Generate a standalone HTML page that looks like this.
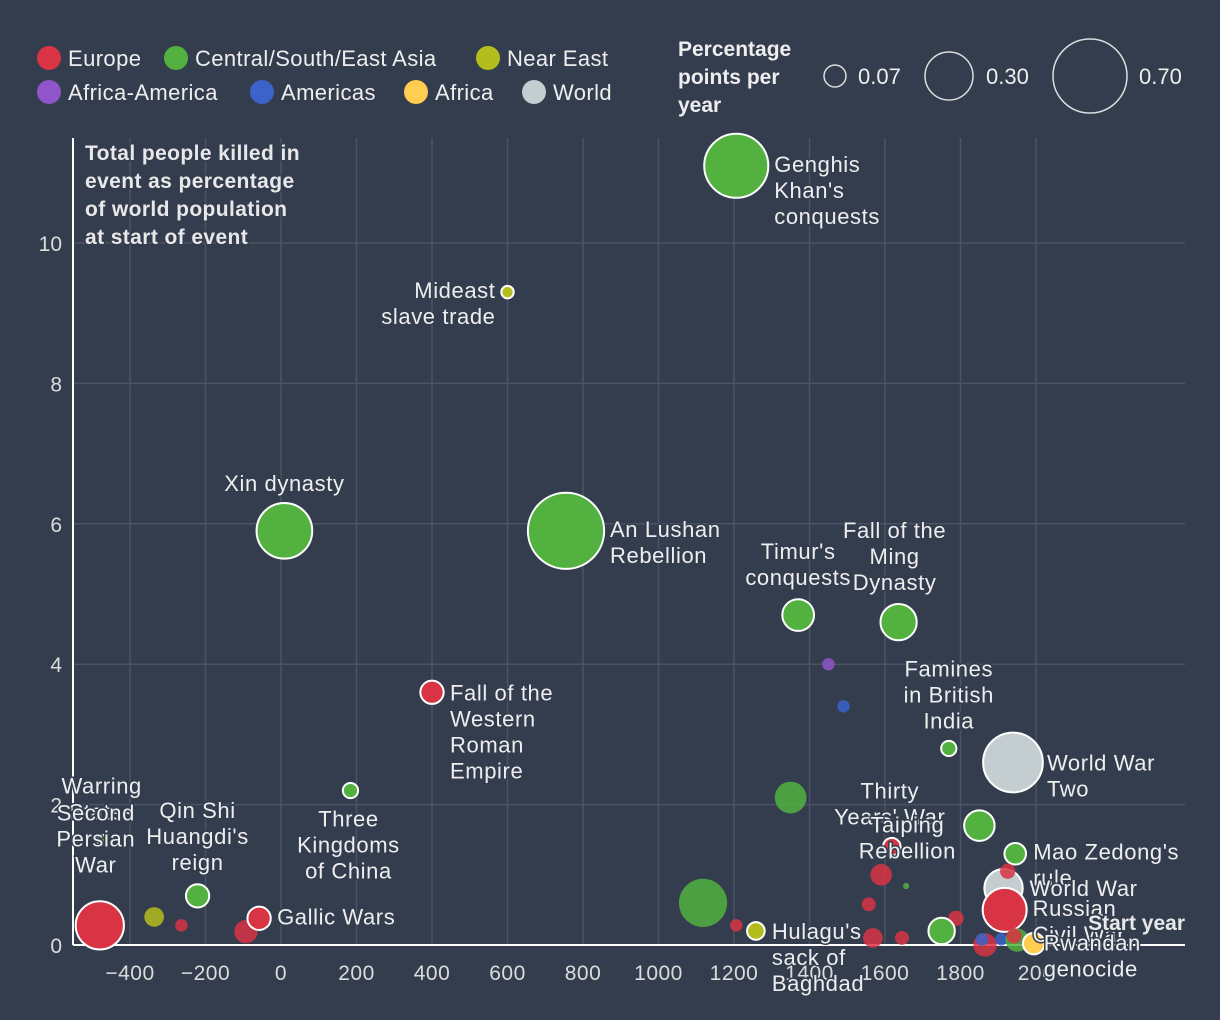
<!DOCTYPE html>
<html><head><meta charset="utf-8"><style>
html,body{margin:0;padding:0;background:#333d4e;}
svg{display:block;font-family:"Liberation Sans",sans-serif;}
</style></head><body>
<svg id="c" width="1220" height="1020" xmlns="http://www.w3.org/2000/svg">
<rect width="1220" height="1020" fill="#333d4e"/>
<g id="grid"></g>
<g id="axes"></g>
<g id="bubbles"></g>
<g id="labels"></g>
<g font-weight="bold" font-size="21" letter-spacing="0.4" fill="#e8e8e8" style="paint-order:stroke" stroke="#333d4e" stroke-width="3">
<text x="85" y="160">Total people killed in</text>
<text x="85" y="188">event as percentage</text>
<text x="85" y="216">of world population</text>
<text x="85" y="244">at start of event</text>
</g>
<text x="1185" y="930" text-anchor="end" font-weight="bold" font-size="21" fill="#e8e8e8" stroke="#333d4e" stroke-width="4" style="paint-order:stroke">Start year</text>
<g id="legend" font-size="22" fill="#eeeeee"></g>
<g font-size="22" fill="#eeeeee">
<text x="678" y="56" font-weight="bold" font-size="21">Percentage</text>
<text x="678" y="84" font-weight="bold" font-size="21">points per</text>
<text x="678" y="112" font-weight="bold" font-size="21">year</text>
<circle cx="835" cy="76" r="11" fill="none" stroke="#ddd" stroke-width="1.5"/>
<text x="858" y="84">0.07</text>
<circle cx="949" cy="76" r="24" fill="none" stroke="#ddd" stroke-width="1.5"/>
<text x="986" y="84">0.30</text>
<circle cx="1090" cy="76" r="37" fill="none" stroke="#ddd" stroke-width="1.5"/>
<text x="1139" y="84">0.70</text>
</g>
</svg>
<script>
const xTicks=[-400,-200,0,200,400,600,800,1000,1200,1400,1600,1800,2000];
const xTickLabels=["−400","−200","0","200","400","600","800","1000","1200","1400","1600","1800","200"];
const yTicks=[0,2,4,6,8,10];
const regions=["Europe","Central/South/East Asia","Near East","Africa-America","Americas","Africa","World"];
const regionColors=["#d93444","#52b13f","#b4bd1e","#8f55c9","#3b63c9","#ffcd51","#c4ced1"];
// events: start year, percent killed, rate (pct points / year), region index, highlighted
const years=[1206,600,9,755,1370,1636,1450,1490,1769,1939,400,184,-475,-480,-336,-264,-221,-93,-58,1350,1118,1206,1258,1618,1590,1656,1557,1568,1645,1850,1945,1788,1750,1914,1917,1925,1865,1857,1908,1950,1942,1994];
const values=[11.1,9.3,5.9,5.9,4.7,4.6,4.0,3.4,2.8,2.6,3.6,2.2,1.5,0.28,0.4,0.28,0.7,0.19,0.38,2.1,0.6,0.28,0.2,1.4,1.0,0.84,0.58,0.1,0.1,1.7,1.3,0.38,0.2,0.81,0.5,1.05,0.0,0.08,0.08,0.07,0.13,0.02];
const rates=[0.53,0.02,0.4,0.75,0.13,0.17,0.02,0.02,0.03,0.46,0.07,0.03,0.012,0.3,0.05,0.02,0.07,0.07,0.07,0.13,0.3,0.02,0.04,0.04,0.06,0.005,0.025,0.05,0.025,0.12,0.06,0.03,0.09,0.19,0.25,0.03,0.07,0.02,0.02,0.07,0.03,0.06];
const regionIdx=[1,2,1,1,1,1,3,4,1,6,0,1,1,0,2,0,1,0,0,1,1,0,2,0,0,1,0,0,0,1,1,0,1,6,0,0,0,4,4,1,0,5];
const highlighted=[1,1,1,1,1,1,0,0,1,1,1,1,1,1,0,0,1,0,1,0,0,0,1,1,0,0,0,0,0,1,1,0,1,1,1,0,0,0,0,0,0,1];
const labelText=["Genghis|Khan's|conquests","Mideast|slave trade","Xin dynasty","An Lushan|Rebellion","Timur's|conquests","Fall of the|Ming|Dynasty","","","Famines|in British|India","World War|Two","Fall of the|Western|Roman|Empire","Three|Kingdoms|of China","Warring|States","Second|Persian|War","","","Qin Shi|Huangdi's|reign","","Gallic Wars","","","","Hulagu's|sack of|Baghdad","Thirty|Years' War","","","","","","Taiping|Rebellion","Mao Zedong's|rule","","","World War","Russian|Civil War","","","","","","","Rwandan|genocide"];
const labelAnchor=["start","end","middle","start","middle","middle","","","middle","start","start","middle","middle","middle","","","middle","","start","","","","start","middle","","","","","","middle","start","","","start","start","","","","","","","start"];
const labelDx=[38,-12,0,44,0,-4,0,0,0,34,18,-2,0,-4,0,0,0,0,18,0,0,0,16,-2,0,0,0,0,0,-72,18,0,0,26,28,0,0,0,0,0,0,10];
const labelDy=[6,6,-40,6,-56,-84,0,0,-72,8,8,36,-46,-105,0,0,-78,0,6,0,0,0,8,-48,0,0,0,0,0,7,6,0,0,8,6,0,0,0,0,0,0,7];

const NS="http://www.w3.org/2000/svg";
const X0=73,X1=1185,Y0=945,Y1=138;
const xs=y=>281+y*0.3775;
const ys=v=>945-v*70.2;
const rs=r=>Math.sqrt(r)*44;
function mk(t,a,p){const e=document.createElementNS(NS,t);for(const k in a)e.setAttribute(k,a[k]);p.appendChild(e);return e;}
const grid=document.getElementById('grid'),axes=document.getElementById('axes');
xTicks.forEach((t,i)=>{
  const l=mk('line',{x1:xs(t),x2:xs(t),y1:Y1,y2:Y0,stroke:'#4b5465','stroke-width':1.5},grid);
  
  
  const tx=mk('text',{x:xs(t),y:980,'text-anchor':'middle','font-size':21,'letter-spacing':0.5,fill:'#dcdcdc'},axes);
  tx.textContent=xTickLabels[i];
  
  
});
yTicks.forEach(t=>{
  if(t>0){const l=mk('line',{x1:X0,x2:X1,y1:ys(t),y2:ys(t),stroke:'#4b5465','stroke-width':1.5},grid);
  
  }
  const tx=mk('text',{x:62,y:ys(t)+8,'text-anchor':'end','font-size':21,fill:'#dcdcdc'},axes);
  tx.textContent=t;
  
  
});
let a=mk('line',{x1:X0,x2:X0,y1:Y1,y2:Y0,stroke:'#fff','stroke-width':2},axes);


a=mk('line',{x1:X0,x2:X1,y1:Y0,y2:Y0,stroke:'#fff','stroke-width':2},axes);



const bg=document.getElementById('bubbles'),lg=document.getElementById('labels');
years.forEach((yr,i)=>{
  const h=highlighted[i];
  const c=mk('circle',{cx:xs(yr),cy:ys(values[i]),r:rs(rates[i]),fill:regionColors[regionIdx[i]],'fill-opacity':h?1:0.85,stroke:h?'#fff':'none','stroke-width':2},bg);
  
  
  if(labelText[i]){
    const t=mk('text',{x:xs(yr)+labelDx[i],y:ys(values[i])+labelDy[i],'text-anchor':labelAnchor[i],'font-size':22,'letter-spacing':0.6,fill:'#eeeeee',stroke:'#333d4e','stroke-width':3,style:'paint-order:stroke'},lg);
    
    
    labelText[i].split('|').forEach((ln,k)=>{const s=mk('tspan',{x:xs(yr)+labelDx[i],dy:k?26:0},t);s.textContent=ln;});
  }
});
const leg=document.getElementById('legend');
const legPos=[[49,58],[176,58],[488,58],[49,92],[262,92],[416,92],[534,92]];
regions.forEach((r,i)=>{
  const c=mk('circle',{cx:legPos[i][0],cy:legPos[i][1],r:12,fill:regionColors[i]},leg);
  
  
  const t=mk('text',{x:legPos[i][0]+19,y:legPos[i][1]+8,'letter-spacing':0.4},leg);
  t.textContent=r;
  
  
});
</script>
</body></html>
